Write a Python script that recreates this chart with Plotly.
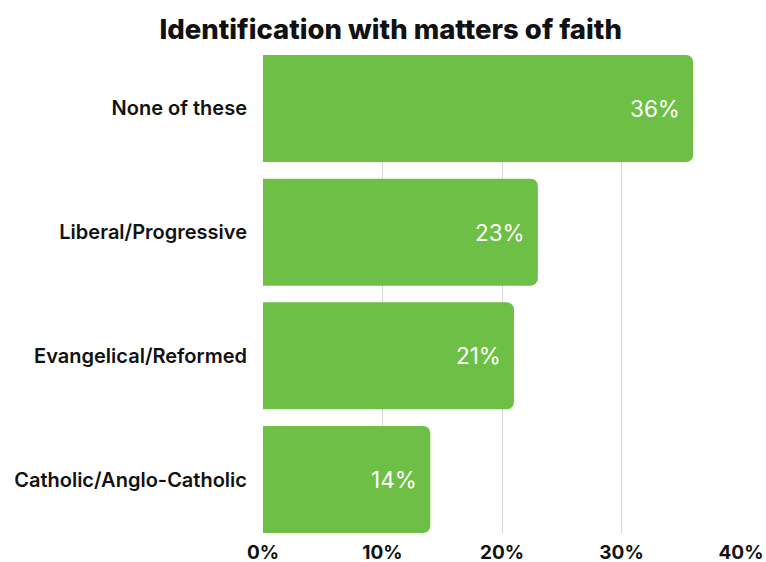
import plotly.graph_objects as go

categories = ["Catholic/Anglo-Catholic", "Evangelical/Reformed", "Liberal/Progressive", "None of these"]
values = [14, 21, 23, 36]
tick_vals = [0, 10, 20, 30, 40]
tick_text = ["0%", "10%", "20%", "30%", "40%"]

bar_color = "#6dbf45"
font_family = "Inter, Lato, sans-serif"
gap = 0.135

fig = go.Figure(go.Bar(
    x=values, y=categories, orientation="h",
    marker=dict(color=bar_color, line=dict(width=0)),
    hoverinfo="skip",
))

for v, c in zip(values, categories):
    fig.add_annotation(x=v, y=c, xref="x", yref="y", text=f"{v}%",
                       showarrow=False, xanchor="right", xshift=-11,
                       font=dict(family=font_family, size=22.5, color="white", weight=400))

fig.update_layout(
    width=766, height=562,
    margin=dict(l=263, r=25, t=55, b=29),
    paper_bgcolor="white", plot_bgcolor="white",
    bargap=gap,
    barcornerradius=7,
    showlegend=False,
    title=dict(text="Identification with matters of faith", x=0.51, xanchor="center",
               y=1 - 29 / 562, yanchor="middle", yref="container",
               font=dict(family=font_family, size=27.5, color="#111111", weight=800)),
    xaxis=dict(range=[0, 40], tickvals=tick_vals, ticktext=tick_text, automargin=False,
               showgrid=True, gridcolor="#d6d6d6", gridwidth=1, zeroline=False,
               showline=False, ticks="", ticklabelstandoff=6,
               tickfont=dict(family=font_family, size=19, color="#111111", weight=700)),
    yaxis=dict(range=[-0.5 + gap / 2, 3.5 - gap / 2], showgrid=False, zeroline=False,
               showline=False, ticks="", ticklabelstandoff=15, automargin=False,
               tickfont=dict(family=font_family, size=20, color="#111111", weight=600)),
)

fig.write_html("out.html")
